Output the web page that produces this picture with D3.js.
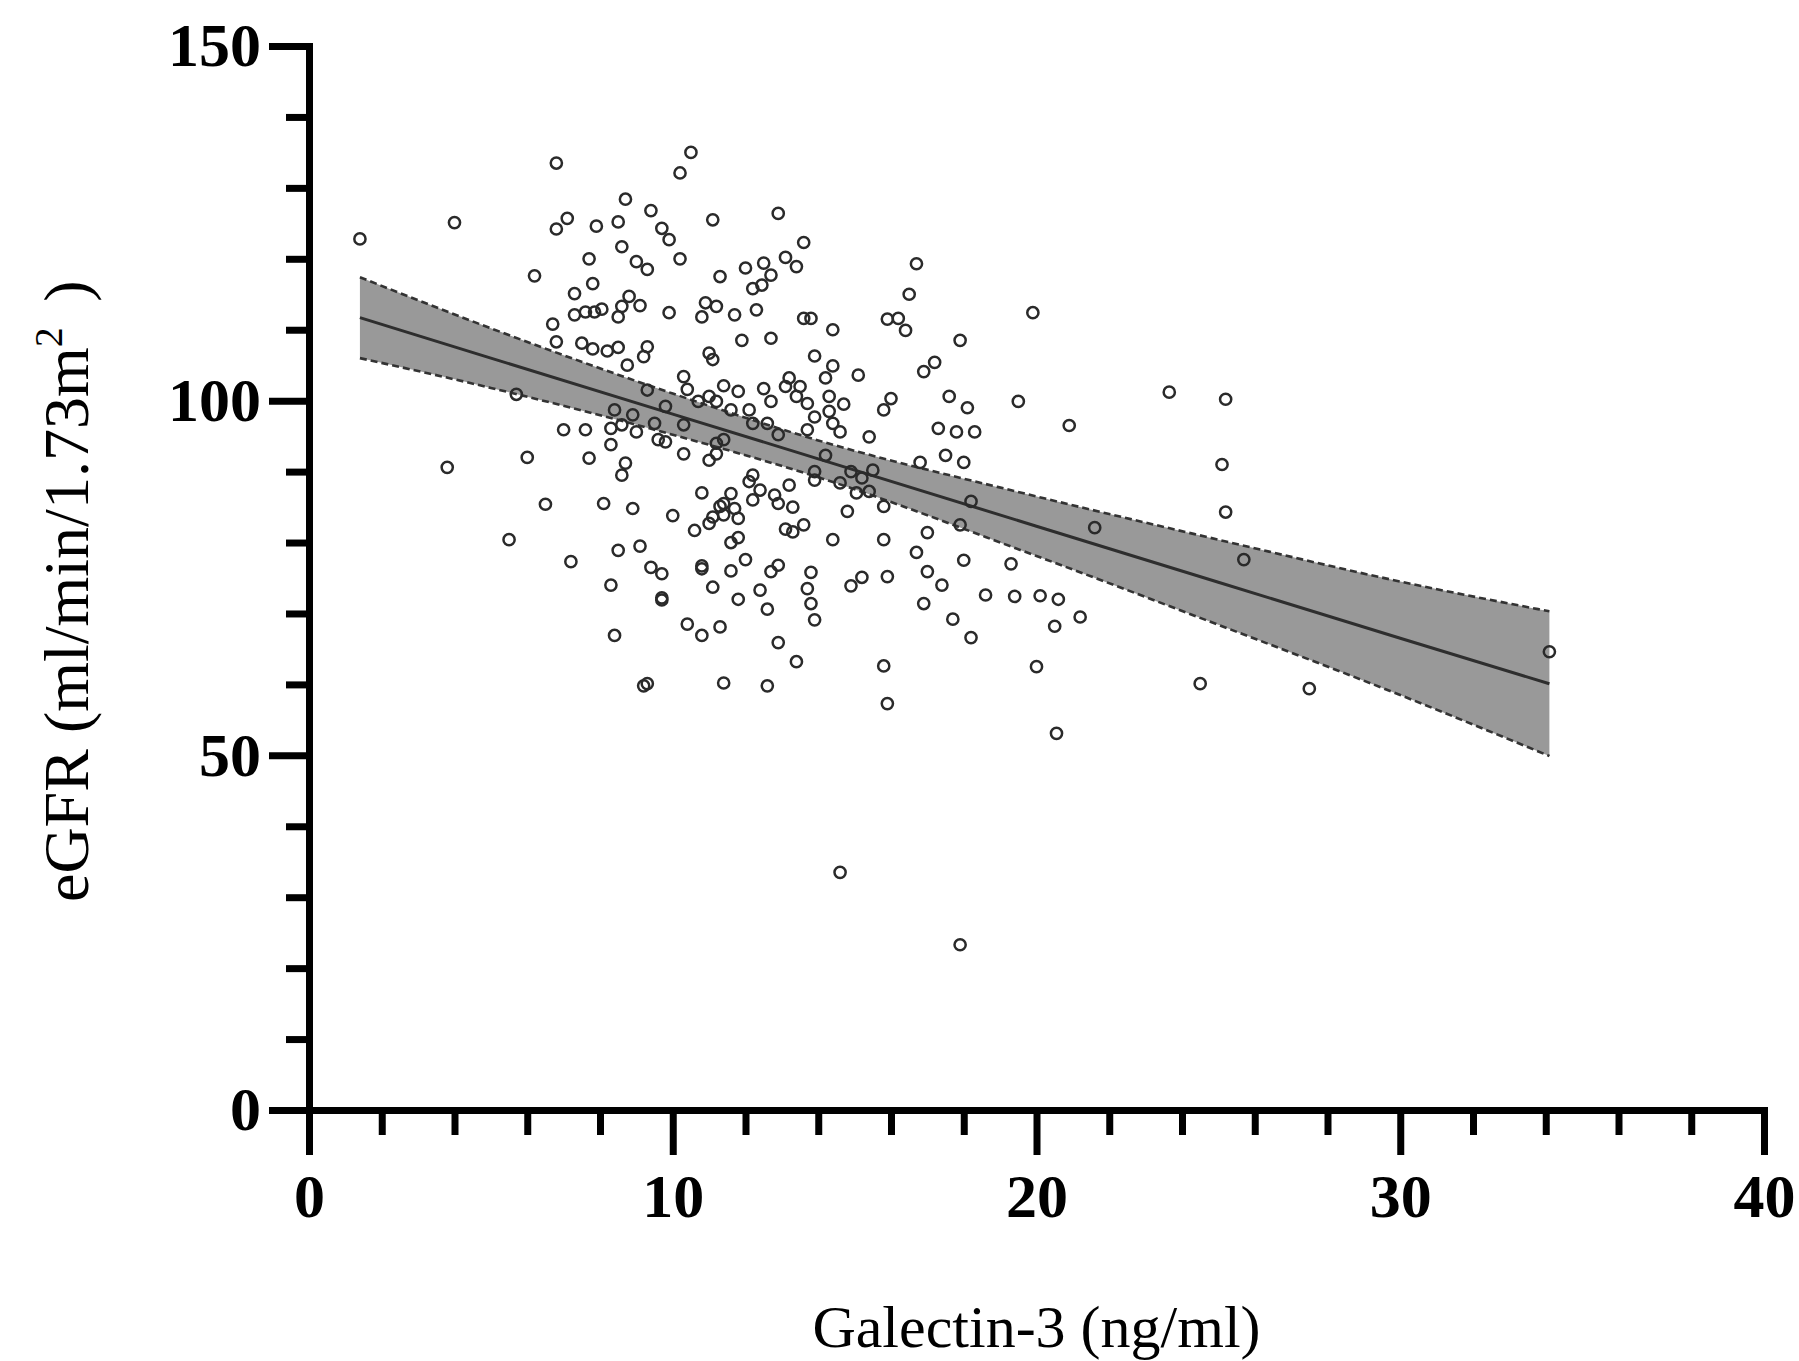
<!DOCTYPE html>
<html>
<head>
<meta charset="utf-8">
<script src="https://d3js.org/d3.v7.min.js"></script>
<style>
  body { margin: 0; background: #fff; }
  .axis text { font-family: "Liberation Serif", "Times New Roman", serif; font-weight: bold; font-size: 62px; fill: #000; }
  .axis path, .axis line { stroke: #000; stroke-width: 7; }
  .title { font-family: "Liberation Serif", "Times New Roman", serif; font-size: 60px; fill: #000; }
</style>
</head>
<body>
<div id="chart"></div>
<script>
var width = 1799;
var height = 1361;

// galectin-3 (ng/ml) and eGFR for each subject
var galectin = [
  6.8, 4.0, 1.4, 7.1, 6.8, 6.2, 7.3, 7.3, 6.7, 6.8, 5.7, 7.0,
  3.8, 6.0, 6.5, 5.5, 7.2,
  10.5, 10.2, 8.7, 9.4, 7.9, 8.5, 9.7, 9.9, 11.1, 12.9, 13.6, 8.6, 7.7, 9.0, 9.3, 10.2, 7.8, 11.3, 12.0, 12.5,
  12.7, 12.2, 12.45, 13.1, 13.4, 7.6, 7.85, 8.05, 8.5, 8.6, 8.8, 9.1, 9.9, 10.8, 10.9, 11.2, 11.7, 12.3, 13.6,
  13.8, 7.5, 7.8, 8.2, 8.5, 9.2, 9.3, 8.75, 11.9, 12.7, 11.0, 11.1, 13.9, 10.3, 10.4, 9.3, 11.4, 11.8, 12.5,
  13.1, 13.2, 13.5, 13.4, 13.7, 12.7, 10.7, 11.0, 11.2, 11.6, 12.1, 8.4, 8.9, 9.8, 9.5, 10.3, 7.6, 8.3, 8.6,
  9.0, 12.2, 12.6, 12.9, 13.9, 13.7, 8.3, 9.6, 9.8, 11.2, 11.4,
  7.7, 8.7, 8.6, 10.3, 11.0, 11.2, 12.2, 12.1, 12.4, 12.2, 12.8, 12.9, 13.2, 13.3, 13.9, 13.9, 10.8, 11.6,
  11.4, 11.3, 11.7, 11.8, 11.4, 11.1, 11.0, 8.1, 8.9, 10.0, 10.6, 13.1, 13.3, 13.6, 11.6, 11.8, 8.5, 9.1,
  12.0, 9.4, 9.7, 10.8, 10.8, 11.6, 12.7, 12.9, 13.8, 8.3, 11.1, 12.4, 13.7, 9.7, 9.7, 11.8, 12.6, 13.8,
  13.9, 10.4, 10.8, 11.3, 8.4, 12.9, 13.4, 9.2, 9.3, 11.4, 12.6,
  16.7, 16.5, 15.9, 16.2, 16.4, 14.4, 17.9, 19.9, 14.4, 14.2, 15.1, 16.9, 17.2, 14.3, 14.7, 14.3, 14.4, 14.6,
  15.4, 15.8, 16.0, 17.6, 18.1, 19.5, 17.3, 17.8, 18.3,
  17.5, 18.0, 16.8, 14.9, 15.2, 15.5, 14.6, 15.05, 15.4, 14.2, 18.2, 17.9, 14.8, 15.8, 14.4, 15.8, 17.0, 16.7,
  18.0, 19.3, 15.2, 14.9, 15.9, 17.0, 17.4, 16.9, 18.6, 19.4, 20.1, 20.6, 17.7, 18.2, 20.5, 15.8, 20.0, 15.9, 20.55,
  20.9, 21.6, 21.2, 23.65, 25.2, 25.1, 25.2, 25.7, 24.5, 27.5, 34.1, 14.6, 17.9
];
var egfr = [
  133.5, 125.1, 122.8, 125.7, 124.2, 117.6, 115.1, 112.1, 110.8, 108.3, 100.9, 95.9,
  90.6, 92.0, 85.4, 80.4, 77.3,
  135.0, 132.1, 128.4, 126.8, 124.6, 125.2, 124.3, 122.7, 125.5, 126.4, 122.3, 121.7, 120.0, 119.6, 118.5, 120.0, 116.5, 117.5, 118.7, 119.4,
  117.7, 115.8, 116.3, 120.2, 118.9, 112.5, 112.5, 112.9, 111.8, 113.3, 114.7, 113.4, 112.4, 111.8, 113.8, 113.3, 112.1, 112.8, 111.6,
  111.6, 108.1, 107.3, 107.0, 107.5, 106.2, 107.6, 105.0, 108.5, 108.8, 106.7, 105.8, 106.3, 103.4, 101.6, 101.5, 102.1, 101.3, 101.7,
  102.0, 103.2, 102.0, 100.6, 99.6, 99.9, 99.9, 100.6, 99.9, 98.7, 98.7, 98.7, 98.0, 99.2, 96.8, 96.6, 95.9, 96.1, 96.6,
  95.6, 96.8, 96.8, 95.2, 97.7, 95.9, 93.8, 94.5, 94.2, 94.0, 94.5,
  91.9, 91.2, 89.5, 92.5, 91.6, 92.5, 89.5, 88.6, 87.4, 86.0, 86.7, 85.5, 88.1, 85.0, 90.0, 88.8, 87.0, 86.9,
  85.5, 85.1, 84.8, 83.4, 83.9, 83.6, 82.7, 85.5, 84.8, 83.8, 81.7, 81.9, 81.5, 82.5, 80.0, 80.7, 78.9, 79.5,
  77.6, 76.5, 75.6, 76.7, 76.3, 76.0, 75.9, 76.8, 75.8, 74.0, 73.7, 73.3, 73.5, 71.9, 72.2, 72.0, 70.6, 71.4,
  69.1, 68.5, 66.9, 68.1, 66.9, 65.9, 63.2, 59.8, 60.1, 60.2, 59.8,
  119.3, 115.0, 111.5, 111.6, 109.9, 110.0, 108.5, 112.4, 104.9, 103.2, 103.6, 104.1, 105.4, 100.6, 99.5, 98.5, 96.8, 95.6,
  94.9, 98.7, 100.3, 100.6, 99.0, 99.9, 96.1, 95.6, 95.6,
  92.3, 91.3, 91.3, 90.0, 89.1, 90.2, 88.4, 87.0, 87.2, 92.3, 85.8, 82.5, 84.4, 85.1, 80.4, 80.4, 81.4, 78.6,
  77.5, 77.0, 75.1, 73.9, 75.2, 75.9, 74.0, 71.4, 72.6, 72.4, 72.5, 72.0, 69.2, 66.6, 68.2, 62.6, 62.5, 57.3, 53.1,
  96.5, 82.1, 69.5, 101.2, 100.2, 91.0, 84.3, 77.6, 60.1, 59.4, 64.6, 33.5, 23.3
];

// regression line with 95% confidence band
var fitX = [1.4, 5, 10, 14, 20, 25, 30, 34.1];
var fitY = [111.7, 106.0, 98.1, 91.8, 82.3, 74.4, 66.5, 60.1];
var ciUpper = [117.4, 110.2, 101.0, 94.4, 86.5, 80.4, 74.5, 70.3];
var ciLower = [106.0, 101.8, 95.2, 89.2, 78.1, 68.4, 58.5, 49.9];

var xMajor = [0, 10, 20, 30, 40];
var xMinor = [2, 4, 6, 8, 12, 14, 16, 18, 22, 24, 26, 28, 32, 34, 36, 38];
var yMajor = [0, 50, 100, 150];
var yMinor = [10, 20, 30, 40, 60, 70, 80, 90, 110, 120, 130, 140];

var svg = d3.select("#chart").append("svg").attr("width", width).attr("height", height);
svg.append("rect").attr("width", width).attr("height", height).attr("fill", "#fff");

var x = d3.scaleLinear().domain([0, 40]).range([309, 1764]);
var y = d3.scaleLinear().domain([0, 150]).range([1110, 46]);

var fit = fitX.map(function(d, i) {
  return { x: d, y: fitY[i], hi: ciUpper[i], lo: ciLower[i] };
});

var band = d3.area()
  .x(function(d) { return x(d.x); })
  .y0(function(d) { return y(d.lo); })
  .y1(function(d) { return y(d.hi); })
  .curve(d3.curveMonotoneX);

svg.append("path").datum(fit).attr("d", band).attr("fill", "#999999");

["hi", "lo"].forEach(function(k) {
  svg.append("path")
    .datum(fit)
    .attr("d", d3.line().x(function(d) { return x(d.x); }).y(function(d) { return y(d[k]); }).curve(d3.curveMonotoneX))
    .attr("fill", "none")
    .attr("stroke", "#333")
    .attr("stroke-width", 2.6)
    .attr("stroke-dasharray", "7,4");
});

svg.append("path")
  .datum(fit)
  .attr("d", d3.line().x(function(d) { return x(d.x); }).y(function(d) { return y(d.y); }))
  .attr("fill", "none")
  .attr("stroke", "#2e2e2e")
  .attr("stroke-width", 3);

svg.append("g").selectAll("circle")
  .data(galectin)
  .enter()
  .append("circle")
  .attr("cx", function(d) { return x(d); })
  .attr("cy", function(d, i) { return y(egfr[i]); })
  .attr("r", 5.6)
  .attr("fill", "none")
  .attr("stroke", "#2a2a2a")
  .attr("stroke-width", 2.5);

// axes
svg.append("g").attr("class", "axis")
  .attr("transform", "translate(0," + y(0) + ")")
  .call(d3.axisBottom(x).tickValues(xMinor).tickSize(25).tickSizeOuter(0).tickFormat(""))
  .select(".domain").remove();

svg.append("g").attr("class", "axis")
  .attr("transform", "translate(0," + y(0) + ")")
  .call(d3.axisBottom(x).tickValues(xMajor).tickSize(45).tickSizeOuter(0).tickPadding(18).tickFormat(d3.format("d")));

svg.append("g").attr("class", "axis")
  .attr("transform", "translate(" + x(0) + ",0)")
  .call(d3.axisLeft(y).tickValues(yMinor).tickSize(23).tickSizeOuter(0).tickFormat(""))
  .select(".domain").remove();

svg.append("g").attr("class", "axis")
  .attr("transform", "translate(" + x(0) + ",0)")
  .call(d3.axisLeft(y).tickValues(yMajor).tickSize(40).tickSizeOuter(0).tickPadding(8).tickFormat(d3.format("d")));

svg.selectAll(".axis .domain").attr("stroke-linecap", "square");

svg.append("text")
  .attr("class", "title")
  .attr("x", (x(0) + x(40)) / 2)
  .attr("y", 1347)
  .attr("text-anchor", "middle")
  .text("Galectin-3 (ng/ml)");

var yt = svg.append("text")
  .attr("class", "title")
  .attr("font-size", "64px")
  .style("font-size", "64px")
  .attr("transform", "translate(88,902)rotate(-90)")
  .attr("text-anchor", "start");
yt.append("tspan").text("eGFR (ml/min/1.73m");
yt.append("tspan").style("font-size", "40px").attr("dy", "-26").text("2");
yt.append("tspan").attr("dy", "26").text("\u2009\u2009)");
</script>
</body>
</html>
